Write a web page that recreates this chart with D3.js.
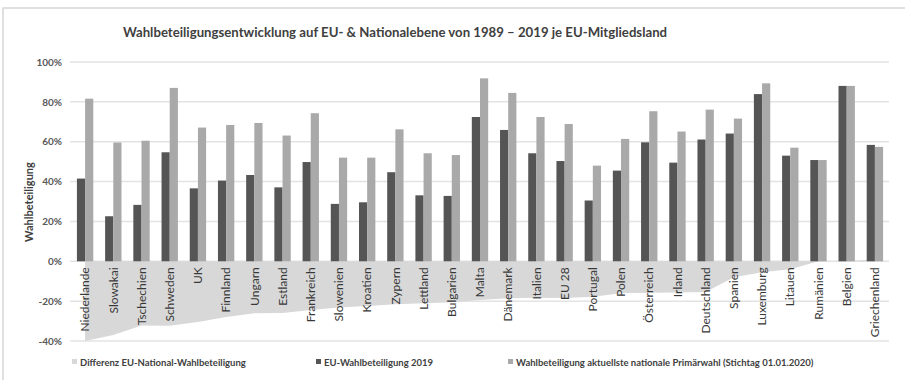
<!DOCTYPE html>
<html>
<head>
<meta charset="utf-8">
<script src="https://cdn.jsdelivr.net/npm/d3@7"></script>
<style>
  html, body { margin: 0; padding: 0; background: #fff; }
  svg { display: block; font-family: Lato, "Open Sans", sans-serif; }
</style>
</head>
<body>
<svg id="chart" width="905" height="380"></svg>
<script>
const categories = ["Niederlande","Slowakai","Tschechien","Schweden","UK","Finnland","Ungarn","Estland","Frankreich","Slowenien","Kroatien","Zypern","Lettland","Bulgarien","Malta","Dänemark","Italien","EU 28","Portugal","Polen","Österreich","Irland","Deutschland","Spanien","Luxemburg","Litauen","Rumänien","Belgien","Griechenland"];
const euTurnout2019 = [41.5,22.6,28.3,54.7,36.6,40.5,43.3,37.1,49.8,28.8,29.6,44.7,33.1,32.8,72.4,65.9,54.2,50.3,30.5,45.5,59.7,49.5,61.1,64.1,83.9,53.0,50.8,88.0,58.4];
const nationalTurnout = [81.6,59.6,60.5,87.0,67.1,68.4,69.4,63.1,74.3,52.0,52.0,66.2,54.2,53.3,91.8,84.5,72.4,68.9,48.0,61.4,75.3,65.1,76.1,71.6,89.3,57.0,50.8,88.0,57.4];
const difference = [-40.0,-37.0,-32.2,-32.3,-30.5,-27.9,-26.1,-26.0,-24.5,-23.2,-22.4,-21.5,-21.1,-20.5,-19.4,-18.6,-18.3,-18.4,-17.8,-16.0,-15.8,-15.7,-15.4,-8.0,-5.5,-4.0,0.0,0.0,1.0];
const yTicks = [-40,-20,0,20,40,60,80,100];
const title = "Wahlbeteiligungsentwicklung auf EU- & Nationalebene von 1989 – 2019 je EU-Mitgliedsland";
const yTitle = "Wahlbeteiligung";
const legendLabels = ["Differenz EU-National-Wahlbeteiligung","EU-Wahlbeteiligung 2019","Wahlbeteiligung aktuellste nationale Primärwahl (Stichtag 01.01.2020)"];

const colDark = "#555555", colLight = "#a9a9a9", colArea = "#d8d8d8";
const svg = d3.select("#chart");

// chart border
svg.append("rect").attr("x",3).attr("y",8).attr("width",910).attr("height",380)
  .attr("fill","#fff").attr("stroke","#d6d6d6").attr("stroke-width",1.5);

const x = d3.scaleBand().domain(categories).range([71, 889]).paddingInner(0.42).paddingOuter(0.21);
const x1 = d3.scaleBand().domain(["eu","nat"]).range([0, x.bandwidth()]);
const y = d3.scaleLinear().domain([-40, 100]).range([341, 62]);

// gridlines
svg.append("g").selectAll("line").data(yTicks).join("line")
  .attr("x1",70).attr("x2",889)
  .attr("y1",d=>y(d)).attr("y2",d=>y(d))
  .attr("stroke","#e3e3e3").attr("stroke-width",1.5);

// y labels
const yAxis = d3.axisLeft(y).tickValues(yTicks).tickFormat(d=>d+"%").tickSize(0).tickPadding(0);
const ya = svg.append("g").attr("transform","translate(62,0)").call(yAxis);
ya.select(".domain").remove();
ya.selectAll("text").attr("font-size",10).attr("font-weight","bold").attr("fill","#595959")
  .attr("font-family","Lato, sans-serif");

// area
const area = d3.area()
  .x((d,i)=>x(categories[i]) + x.bandwidth()/2)
  .y0(y(0)).y1(d=>y(d));
svg.append("path").datum(difference).attr("d",area).attr("fill",colArea);

// bars
const g = svg.append("g");
categories.forEach((c,i)=>{
  [["eu",euTurnout2019[i],colDark],["nat",nationalTurnout[i],colLight]].forEach(([k,v,col])=>{
    g.append("rect")
      .attr("x", x(c)+x1(k)).attr("width", x1.bandwidth())
      .attr("y", y(Math.max(0,v))).attr("height", Math.abs(y(v)-y(0)))
      .attr("fill", col);
  });
});

// x labels
const xAxis = d3.axisBottom(x).tickSize(0).tickPadding(0);
const xa = svg.append("g").attr("transform",`translate(0,${y(0)})`).call(xAxis);
xa.select(".domain").remove();
xa.selectAll("text")
  .attr("transform","rotate(-90)")
  .attr("text-anchor","end")
  .attr("dy","0.35em").attr("x",-6).attr("y",0)
  .attr("font-size",12).attr("fill","#383838")
  .attr("font-family","Lato, sans-serif");

// title
svg.append("text").attr("x",395).attr("y",37).attr("text-anchor","middle")
  .attr("font-size",13.2).attr("font-weight","bold").attr("fill","#404040").text(title);

// y title
svg.append("text").attr("transform","translate(33,202) rotate(-90)").attr("text-anchor","middle")
  .attr("font-size",11).attr("font-weight","bold").attr("fill","#404040").text(yTitle);

// legend
const legX = [72, 316, 508];
const legCols = [colArea, colDark, colLight];
legendLabels.forEach((t,i)=>{
  svg.append("rect").attr("x",legX[i]).attr("y",359).attr("width",5).attr("height",5).attr("fill",legCols[i]);
  svg.append("text").attr("x",legX[i]+8).attr("y",366).attr("font-size",9.5).attr("font-weight","bold")
    .attr("fill","#404040").text(t);
});
</script>
</body>
</html>
